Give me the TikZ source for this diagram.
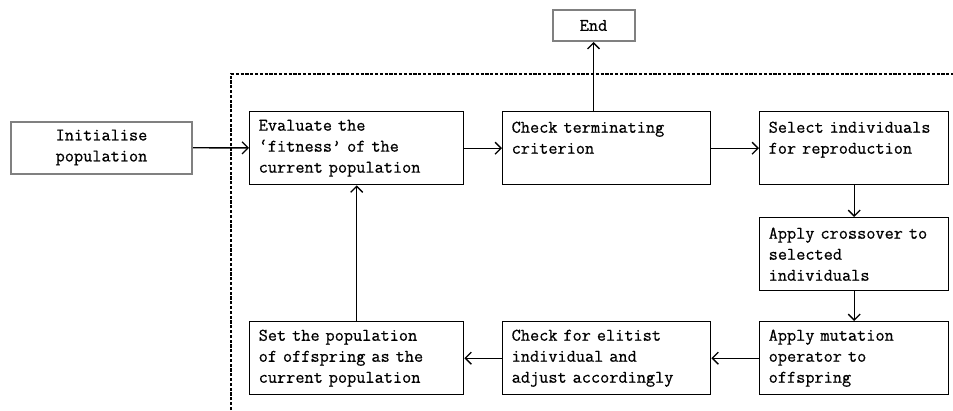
\documentclass[tikz,border=0pt]{standalone}
\usepackage{fontspec}
\newfontfamily\steptt{Latin Modern Mono}[FakeBold=0.6]
\usetikzlibrary{arrows.meta}
\definecolor{framegray}{RGB}{128,128,128}
\begin{document}
\begin{tikzpicture}[x=1pt,y=-1pt,
  every node/.style={font=\steptt\fontsize{17.8}{21}\selectfont},
  stepbox/.style={draw=black, line width=1.4pt, anchor=north west,
    inner xsep=9pt, inner ysep=0pt, text width=#1, minimum height=73pt, align=left},
  endbox/.style={draw=framegray, line width=2pt, align=center, inner sep=0pt},
  flow/.style={line width=1.4pt, -{Straight Barb[length=6pt,width=12pt,line width=1.3pt]}},
  loopframe/.style={line width=1.3pt, dash pattern=on 3.2pt off 1.6pt}]
\useasboundingbox (0,0) rectangle (953,410);

% dashed frame around the main loop
\coordinate (fa) at (231,410);
\coordinate (fb) at (231,74);
\coordinate (fc) at (953,74);
\draw[loopframe] (fa) -- (fb) -- (fc);

% start and end
\node[endbox, minimum width=181pt, minimum height=52pt] (init) at (101.5,147.5) {Initialise\\population};
\node[endbox, minimum width=82pt, minimum height=31pt] (stop) at (593.5,25.5) {End};

% loop steps
\node[stepbox=196pt] (eval) at (249,111) {Evaluate the\\‘fitness’ of the\\current population};
\node[stepbox=190pt] (check) at (502,111) {Check terminating\\criterion\\\mbox{}};
\node[stepbox=171pt] (select) at (759,111) {Select individuals\\for reproduction\\\mbox{}};
\node[stepbox=171pt] (cross) at (759,217) {Apply crossover to\\selected\\individuals};
\node[stepbox=171pt] (mut) at (759,321) {Apply mutation\\operator to\\offspring};
\node[stepbox=190pt] (elit) at (502,321) {Check for elitist\\individual and\\adjust accordingly};
\node[stepbox=196pt] (set) at (249,321) {Set the population\\of offspring as the\\current population};

% connectors
\draw[flow] (init) -- (eval);
\draw[flow] (eval) -- (check);
\draw[flow] (check) -- (select);
\draw[flow] (check.north -| stop) -- (stop);
\draw[flow] (select) -- (cross);
\draw[flow] (cross) -- (mut);
\draw[flow] (mut) -- (elit);
\draw[flow] (elit) -- (set);
\draw[flow] (set) -- (eval);
\end{tikzpicture}
\end{document}
